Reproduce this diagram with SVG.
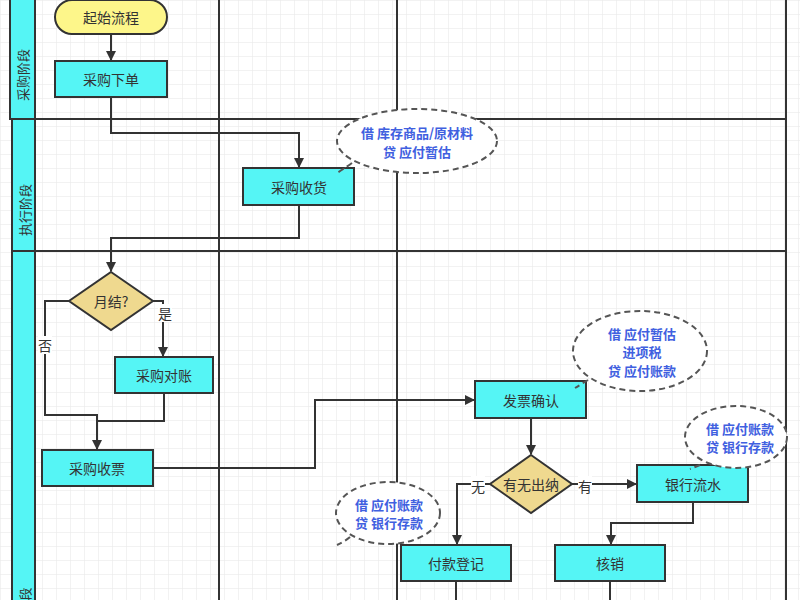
<svg xmlns="http://www.w3.org/2000/svg" width="800" height="600" viewBox="0 0 800 600">
<defs>
<pattern id="grid" width="14" height="14" patternUnits="userSpaceOnUse"><path d="M14 0H0V14" fill="none" stroke="#e6e6e6" stroke-width="1"/></pattern>
<marker id="arr" markerWidth="10" markerHeight="10" refX="9" refY="5" orient="auto" markerUnits="userSpaceOnUse"><path d="M0,0 L10,5 L0,10 Z" fill="#333"/></marker>
<style>
.box{fill:#55f5f5;stroke:#333;stroke-width:2}
.dia{fill:#efd98f;stroke:#333;stroke-width:2}
.t{font-family:"Noto Sans CJK SC","Liberation Sans",sans-serif;font-size:14px;fill:#333;text-anchor:middle;dominant-baseline:central}
.c{fill:#fff;stroke:#555;stroke-width:2;stroke-dasharray:6,4}
.ct{font-family:"Noto Sans CJK SC","Liberation Sans",sans-serif;font-size:13px;font-weight:bold;fill:#4060e0;text-anchor:middle;dominant-baseline:central}
.ln{fill:none;stroke:#333;stroke-width:2}
.lane{fill:#55f5f5;stroke:#333;stroke-width:2}
.lbl{font-family:"Noto Sans CJK SC","Liberation Sans",sans-serif;font-size:13px;fill:#333;text-anchor:middle;dominant-baseline:central}
</style>
</defs>
<rect width="800" height="600" fill="#fff"/>
<rect width="800" height="600" fill="url(#grid)"/>
<g id="lanes">
<rect class="lane" x="10" y="-5" width="25" height="124"/>
<rect class="lane" x="12" y="119" width="23" height="132"/>
<rect class="lane" x="12" y="251" width="23" height="360"/>
<text class="lbl" transform="translate(22,75) rotate(-90)">采购阶段</text>
<text class="lbl" transform="translate(24,210) rotate(-90)">执行阶段</text>
<text class="lbl" transform="translate(24,594) rotate(-90)">段</text>
<path class="ln" d="M35 119H785M35 251H787M219 0V600M397 0V600M786 0V600"/>
</g>
<g id="connectors">
<path class="ln" d="M111 34V60" marker-end="url(#arr)"/>
<path class="ln" d="M111 97V133H299V167" marker-end="url(#arr)"/>
<path class="ln" d="M299 205V238H111V271" marker-end="url(#arr)"/>
<path class="ln" d="M153 301H163V356" marker-end="url(#arr)"/>
<path class="ln" d="M69 301H45V415H97V449" marker-end="url(#arr)"/>
<path class="ln" d="M164 393V421H97"/>
<path class="ln" d="M153 468H315V400H474" marker-end="url(#arr)"/>
<path class="ln" d="M531 418V454" marker-end="url(#arr)"/>
<path class="ln" d="M490 484H457V544" marker-end="url(#arr)"/>
<path class="ln" d="M572 484H636" marker-end="url(#arr)"/>
<path class="ln" d="M693 502V523H611V544" marker-end="url(#arr)"/>
<path class="ln" d="M456 581V600M610 581V600"/>
<rect x="158" y="304" width="14" height="18" fill="#fff"/><text class="t" x="165" y="313">是</text>
<rect x="38" y="336" width="14" height="18" fill="#fff"/><text class="t" x="45" y="345">否</text>
<rect x="471" y="476" width="14" height="18" fill="#fff"/><text class="t" x="478" y="486">无</text>
<rect x="578" y="476" width="14" height="18" fill="#fff"/><text class="t" x="585" y="486">有</text>
</g>
<g id="start"><rect x="55" y="0" width="112" height="34" rx="17" fill="#fdf68a" stroke="#333" stroke-width="2"/><text class="t" x="111" y="17">起始流程</text></g>
<g id="order"><rect class="box" x="55" y="61" width="112" height="36"/><text class="t" x="111" y="79">采购下单</text></g>
<g id="receive"><rect class="box" x="243" y="168" width="111" height="37"/><text class="t" x="299" y="187">采购收货</text></g>
<g id="monthly"><polygon class="dia" points="111,272 153,301 111,330 69,301"/><text class="t" x="111" y="301">月结?</text></g>
<g id="reconcile"><rect class="box" x="115" y="357" width="98" height="36"/><text class="t" x="164" y="375">采购对账</text></g>
<g id="invoice"><rect class="box" x="42" y="450" width="111" height="36"/><text class="t" x="97" y="468">采购收票</text></g>
<g id="confirm"><rect class="box" x="475" y="381" width="111" height="37"/><text class="t" x="531" y="400">发票确认</text></g>
<g id="cashier"><polygon class="dia" points="531,455 572,484 531,513 490,484"/><text class="t" x="531" y="484">有无出纳</text></g>
<g id="bank"><rect class="box" x="637" y="465" width="111" height="37"/><text class="t" x="693" y="484">银行流水</text></g>
<g id="payment"><rect class="box" x="401" y="545" width="110" height="36"/><text class="t" x="456" y="563">付款登记</text></g>
<g id="writeoff"><rect class="box" x="555" y="545" width="110" height="36"/><text class="t" x="610" y="563">核销</text></g>
<g id="note1"><path class="c" d="M352 163 Q342 170 337 173"/><ellipse class="c" cx="417" cy="141" rx="80" ry="32"/><text class="ct" x="417" y="132">借 库存商品/原材料</text><text class="ct" x="417" y="151">贷 应付暂估</text></g>
<g id="note2"><path class="c" d="M588 380 Q580 385 575 388"/><ellipse class="c" cx="640" cy="351" rx="67" ry="40"/><text class="ct" x="642" y="333">借 应付暂估</text><text class="ct" x="642" y="351">进项税</text><text class="ct" x="642" y="370">贷 应付账款</text></g>
<g id="note3"><path class="c" d="M700 465 Q695 467 690 469"/><ellipse class="c" cx="736" cy="437" rx="51" ry="31"/><text class="ct" x="740" y="428">借 应付账款</text><text class="ct" x="740" y="446">贷 银行存款</text></g>
<g id="note4"><path class="c" d="M350 537 Q344 542 337 545"/><ellipse class="c" cx="388" cy="513" rx="52" ry="31"/><text class="ct" x="389" y="504">借 应付账款</text><text class="ct" x="389" y="522">贷 银行存款</text></g>
</svg>
